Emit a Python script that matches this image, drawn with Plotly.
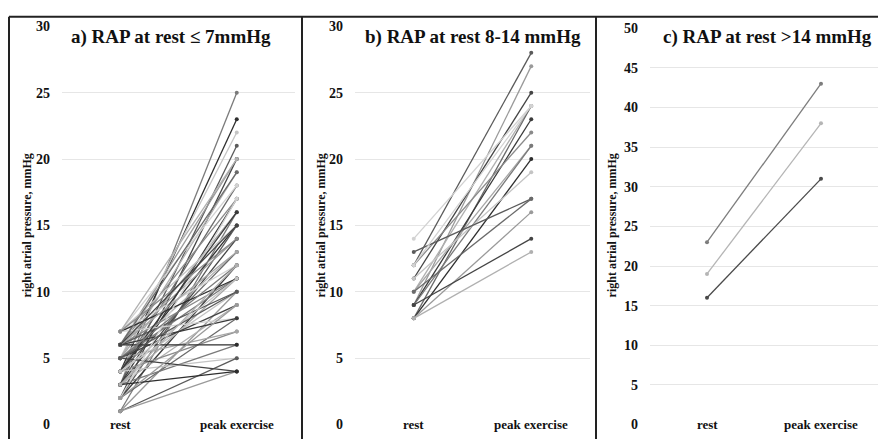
import plotly.graph_objects as go

# ---------------- data ----------------
categories = ["rest", "peak exercise"]

a_rest = [3, 4, 5, 3, 6, 2, 5, 4, 7, 3, 6, 5, 1, 4, 7, 2, 6, 3, 5, 4,
          7, 2, 6, 3, 5, 7, 4, 6, 1, 5, 3, 2, 7, 6, 4, 5, 3, 6, 4, 1,
          1, 5, 7, 6, 2, 4, 7, 6, 5, 3, 4, 5, 2, 6, 3]
a_peak = [25, 23, 22, 21, 20, 20, 19, 18, 18, 17, 17, 16, 16, 15, 15, 15, 14, 14, 13, 13,
          12, 12, 11, 11, 11, 11, 10, 10, 10, 9, 9, 8, 8, 8, 7, 7, 6, 6, 5, 5,
          4, 4, 20, 19, 17, 16, 14, 13, 12, 4, 11, 10, 9, 15, 12]

b_rest = [12, 9, 11, 10, 8, 14, 9, 12, 10, 9, 8, 11, 13, 8, 9, 8, 10, 12]
b_peak = [28, 27, 25, 24, 24, 24, 23, 22, 21, 21, 20, 19, 17, 16, 14, 13, 17, 24]

c_rest = [23, 19, 16]
c_peak = [43, 38, 31]

titles = ["a) RAP at rest \u2264 7mmHg", "b) RAP at rest 8-14 mmHg", "c) RAP at rest >14 mmHg"]
y_title = "right atrial pressure, mmHg"
y_ticks_ab = [0, 5, 10, 15, 20, 25, 30]
y_ticks_c = [0, 5, 10, 15, 20, 25, 30, 35, 40, 45, 50]

# ---------------- style ----------------
grays = ["#7a7a7a", "#2e2e2e", "#c4c4c4", "#5a5a5a", "#9a9a9a", "#444444",
         "#b0b0b0", "#6a6a6a", "#d2d2d2", "#3a3a3a", "#8a8a8a", "#a6a6a6"]
c_colors = ["#7d7d7d", "#b5b5b5", "#4a4a4a"]
FONT = "Liberation Serif"
W, H = 878, 447

fig = go.Figure()

def add_panel(rest, peak, axis_id, colors):
    xa = "x" if axis_id == 1 else f"x{axis_id}"
    ya = "y" if axis_id == 1 else f"y{axis_id}"
    for i, (r, p) in enumerate(zip(rest, peak)):
        col = colors[i % len(colors)]
        fig.add_trace(go.Scatter(
            x=[0, 1], y=[r, p], mode="lines+markers",
            line=dict(color=col, width=1.3),
            marker=dict(color=col, size=4),
            xaxis=xa, yaxis=ya, showlegend=False, hoverinfo="skip"))

add_panel(a_rest, a_peak, 1, grays)
add_panel(b_rest, b_peak, 2, grays[3:] + grays[:3])
add_panel(c_rest, c_peak, 3, c_colors)

y_bot = (H - 432) / H
y_top = (H - 20) / H
y_top_c = (H - 22) / H
domains = [(62 / W, 295 / W), (355 / W, 590 / W), (650 / W, 1.0)]

axis_common = dict(showline=False, zeroline=False)
for k, (d0, d1) in enumerate(domains, start=1):
    sfx = "" if k == 1 else str(k)
    tv = y_ticks_ab if k < 3 else y_ticks_c
    fig.update_layout(**{
        f"xaxis{sfx}": dict(domain=[d0, d1], range=[-0.5, 1.5], showgrid=False,
                            showticklabels=False, anchor=f"y{sfx}", **axis_common),
        f"yaxis{sfx}": dict(domain=[y_bot, y_top if k < 3 else y_top_c],
                            range=[0, 30] if k < 3 else [0, 50],
                            tickvals=tv, ticktext=[f"<b>{v}</b>" for v in tv],
                            showgrid=True, gridcolor="#e6e6e6", gridwidth=1,
                            tickfont=dict(family=FONT, size=14, color="#111"),
                            ticklabelstandoff=11, anchor=f"x{sfx}", **axis_common),
    })

annotations = []
title_x = [171, 473, 767]
ytitle_x = [27, 321, 612]
for k in range(3):
    sfx = "" if k == 0 else str(k + 1)
    annotations.append(dict(text=f"<b>{titles[k]}</b>", x=title_x[k] / W, y=(H - 31) / H,
                            xref="paper", yref="paper", showarrow=False,
                            xanchor="center", yanchor="middle",
                            font=dict(family=FONT, size=19)))
    annotations.append(dict(text=f"<b>{y_title}</b>", x=ytitle_x[k] / W, y=(H - 226) / H,
                            xref="paper", yref="paper", showarrow=False, textangle=-90,
                            xanchor="center", yanchor="middle",
                            font=dict(family=FONT, size=12)))
    for j, cat in enumerate(categories):
        annotations.append(dict(text=f"<b>{cat}</b>", x=j, y=0, xref=f"x{sfx}", yref=f"y{sfx}",
                                showarrow=False, xanchor="center", yanchor="middle",
                                font=dict(family=FONT, size=13)))

shapes = [
    dict(type="line", xref="paper", yref="paper", x0=9 / W, x1=1.0,
         y0=(H - 10) / H, y1=(H - 10) / H, line=dict(color="#222", width=2)),
    dict(type="line", xref="paper", yref="paper", x0=9 / W, x1=9 / W,
         y0=0, y1=(H - 10) / H, line=dict(color="#222", width=2)),
    dict(type="line", xref="paper", yref="paper", x0=302 / W, x1=302 / W,
         y0=0, y1=(H - 10) / H, line=dict(color="#222", width=2)),
    dict(type="line", xref="paper", yref="paper", x0=596 / W, x1=596 / W,
         y0=0, y1=(H - 10) / H, line=dict(color="#222", width=2)),
]

fig.update_layout(width=W, height=H, margin=dict(l=0, r=0, t=0, b=0),
                  font=dict(family=FONT, color="#111"),
                  paper_bgcolor="white", plot_bgcolor="white",
                  annotations=annotations, shapes=shapes)

fig.write_html("out.html")
